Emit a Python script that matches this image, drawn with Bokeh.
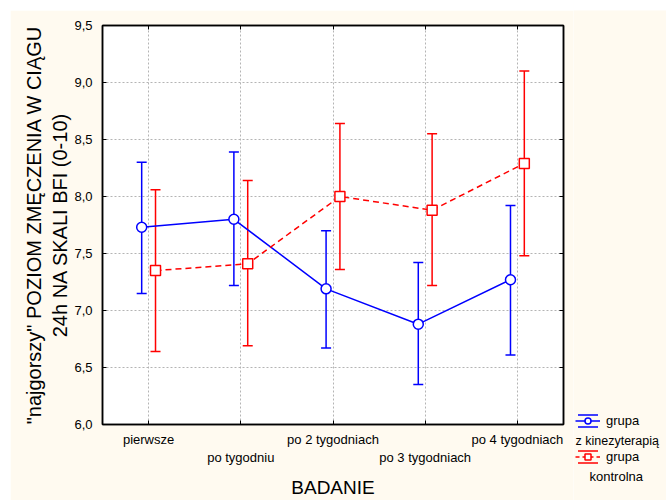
import math
from bokeh.plotting import figure
from bokeh.models import (Range1d, FixedTicker, LinearAxis, CustomJSTickFormatter,
                          ColumnDataSource, Whisker, TeeHead, Legend, LegendItem, Label)
from bokeh.transform import dodge
from bokeh.embed import file_html
from bokeh.resources import INLINE

# ---- data ----
categories = ["pierwsze", "po tygodniu", "po 2 tygodniach", "po 3 tygodniach", "po 4 tygodniach"]
cat_pos = [1, 2, 3, 4, 5]
kin_mean = [7.73, 7.80, 7.19, 6.88, 7.27]
kin_upper = [8.30, 8.39, 7.70, 7.42, 7.92]
kin_lower = [7.15, 7.22, 6.67, 6.35, 6.61]
ctl_mean = [7.35, 7.41, 8.00, 7.88, 8.29]
ctl_upper = [8.06, 8.14, 8.64, 8.55, 9.10]
ctl_lower = [6.64, 6.69, 7.36, 7.22, 7.48]
y_ticks = [6.0, 6.5, 7.0, 7.5, 8.0, 8.5, 9.0, 9.5]
series_names = ["grupa", "grupa"]
series_second_line = ["z kinezyterapią", "kontrolna"]

FONT = "Liberation Sans"
BLUE = "#0000ff"
RED = "#ff0000"
BG = "#fffaf0"
TXT = "black"

p = figure(width=563, height=490, x_range=Range1d(0.5, 5.5), y_range=Range1d(6.0, 9.5),
           output_backend="svg", toolbar_location=None,
           min_border_left=92, min_border_right=10, min_border_top=15, min_border_bottom=76,
           background_fill_color="white", border_fill_color=BG,
           outline_line_color="black", outline_line_width=1.5)
p.margin = (10, 0, 0, 10)

# ---- axes ----
xa = p.xaxis[0]
xa.ticker = FixedTicker(ticks=cat_pos)
xa.major_label_overrides = {c: (lab if i % 2 == 0 else "") for i, (c, lab) in enumerate(zip(cat_pos, categories))}
xa.major_tick_in = 4
xa.major_tick_out = 0
xa.minor_tick_line_color = None
xa.axis_line_width = 1.5
xa.major_label_text_font = FONT
xa.major_label_text_font_size = "13px"
xa.major_label_text_color = TXT
xa.major_label_standoff = 7

xa2 = LinearAxis(ticker=FixedTicker(ticks=cat_pos[1::2]),
                 major_label_overrides={c: lab for c, lab in zip(cat_pos[1::2], categories[1::2])})
xa2.axis_line_color = None
xa2.major_tick_line_color = None
xa2.major_tick_in = 0
xa2.major_tick_out = 0
xa2.minor_tick_line_color = None
xa2.minor_tick_in = 0
xa2.minor_tick_out = 0
xa2.major_label_text_font = FONT
xa2.major_label_text_font_size = "13px"
xa2.major_label_text_color = TXT
xa2.major_label_standoff = 0
xa2.axis_label = "BADANIE"
xa2.axis_label_text_font = FONT
xa2.axis_label_text_font_size = "19px"
xa2.axis_label_text_font_style = "normal"
xa2.axis_label_text_color = TXT
xa2.axis_label_standoff = 9
p.add_layout(xa2, "below")

ya = p.yaxis[0]
ya.ticker = FixedTicker(ticks=y_ticks)
ya.formatter = CustomJSTickFormatter(code="return tick.toFixed(1).replace('.', ',');")
ya.major_tick_in = 4
ya.major_tick_out = 0
ya.minor_tick_line_color = None
ya.axis_line_width = 1.5
ya.major_label_text_font = FONT
ya.major_label_text_font_size = "13px"
ya.major_label_text_color = TXT
ya.major_label_standoff = 10
ya.axis_label = '"najgorszy" POZIOM ZMĘCZENIA W CIĄGU\n24h NA SKALI BFI (0-10)'
ya.axis_label_text_font = FONT
ya.axis_label_text_font_size = "20px"
ya.axis_label_text_font_style = "normal"
ya.axis_label_text_color = TXT
ya.axis_label_standoff = 0

blank = CustomJSTickFormatter(code="return '';")
ra = LinearAxis(ticker=FixedTicker(ticks=y_ticks), formatter=blank,
                major_tick_in=4, major_tick_out=0, minor_tick_line_color=None,
                axis_line_width=1.5, major_label_text_font_size="1px", major_label_standoff=0)
p.add_layout(ra, "right")
ta = LinearAxis(ticker=FixedTicker(ticks=cat_pos), formatter=blank,
                major_tick_in=4, major_tick_out=0, minor_tick_line_color=None,
                axis_line_width=1.5, major_label_text_font_size="1px", major_label_standoff=0)
p.add_layout(ta, "above")

for g in (p.xgrid[0], p.ygrid[0]):
    g.grid_line_color = "#b4b4b4"
    g.grid_line_dash = "2 2"
    g.grid_line_width = 1
p.ygrid[0].ticker = FixedTicker(ticks=y_ticks)

# ---- data sources ----
kin = ColumnDataSource(dict(x=cat_pos, m=kin_mean, up=kin_upper, lo=kin_lower))
ctl = ColumnDataSource(dict(x=cat_pos, m=ctl_mean, up=ctl_upper, lo=ctl_lower))
OFF = 0.075

wk = Whisker(base=dodge("x", -OFF), upper="up", lower="lo", source=kin,
             line_color=BLUE, line_width=1.5,
             upper_head=TeeHead(size=10, line_color=BLUE, line_width=1.5),
             lower_head=TeeHead(size=10, line_color=BLUE, line_width=1.5))
wc = Whisker(base=dodge("x", OFF), upper="up", lower="lo", source=ctl,
             line_color=RED, line_width=1.5,
             upper_head=TeeHead(size=10, line_color=RED, line_width=1.5),
             lower_head=TeeHead(size=10, line_color=RED, line_width=1.5))
p.add_layout(wk)
p.add_layout(wc)

p.line(dodge("x", -OFF), "m", source=kin, line_color=BLUE, line_width=1.5)
p.scatter(dodge("x", -OFF), "m", source=kin, marker="circle", size=10,
          fill_color="white", line_color=BLUE, line_width=1.5)
p.line(dodge("x", OFF), "m", source=ctl, line_color=RED, line_width=1.5, line_dash="6 4")
p.scatter(dodge("x", OFF), "m", source=ctl, marker="square", size=10,
          fill_color="white", line_color=RED, line_width=1.5)

# ---- legend panel: separate small figure placed to the right of the chart ----
q = figure(width=93, height=490, x_range=Range1d(-10, -9), y_range=Range1d(-10, -9),
           output_backend="svg", toolbar_location=None,
           x_axis_location=None, y_axis_location=None,
           min_border=0, min_border_left=0, min_border_right=0, min_border_top=0, min_border_bottom=0,
           background_fill_color=BG, border_fill_color=BG, outline_line_color=None)
q.styles = {"position": "absolute", "left": "573px", "top": "10px"}
q.xgrid.visible = False
q.ygrid.visible = False


def legend_renderers(src, color, dash, marker):
    # legend-only renderers: the series data lies outside this panel's ranges
    caps = q.quad(left="x", right="x", bottom="lo", top="up", source=src, fill_alpha=0,
                  line_color=color, line_width=1.5, line_dash="20 12")
    ln = q.line("x", "m", source=src, line_color=color, line_width=1.5, line_dash=dash)
    bar = q.scatter("x", "m", source=src, marker="dash", angle=math.pi / 2, size=12,
                    line_color=color, line_width=1.5)
    mk = q.scatter("x", "m", source=src, marker=marker, size=10,
                   fill_color="white", line_color=color, line_width=1.5)
    return [caps, ln, bar, mk]


legend = Legend(items=[LegendItem(label=series_names[0], renderers=legend_renderers(kin, BLUE, "solid", "circle")),
                       LegendItem(label=series_names[1], renderers=legend_renderers(ctl, RED, "4 3", "square"))],
                location=(2, 36), padding=0, margin=0, spacing=21,
                glyph_width=25, glyph_height=15, label_height=15, label_standoff=6,
                label_text_font=FONT, label_text_font_size="13px", label_text_color=TXT,
                background_fill_alpha=0, border_line_alpha=0)
q.add_layout(legend, "center")

q.add_layout(Label(x=2, y=60, x_units="screen", y_units="screen", text=series_second_line[0],
                   text_font=FONT, text_font_size="12.5px", text_baseline="middle", text_color=TXT))
q.add_layout(Label(x=16, y=24, x_units="screen", y_units="screen", text=series_second_line[1],
                   text_font=FONT, text_font_size="13px", text_baseline="middle", text_color=TXT))

open("out.html", "w").write(file_html([p, q], INLINE))
